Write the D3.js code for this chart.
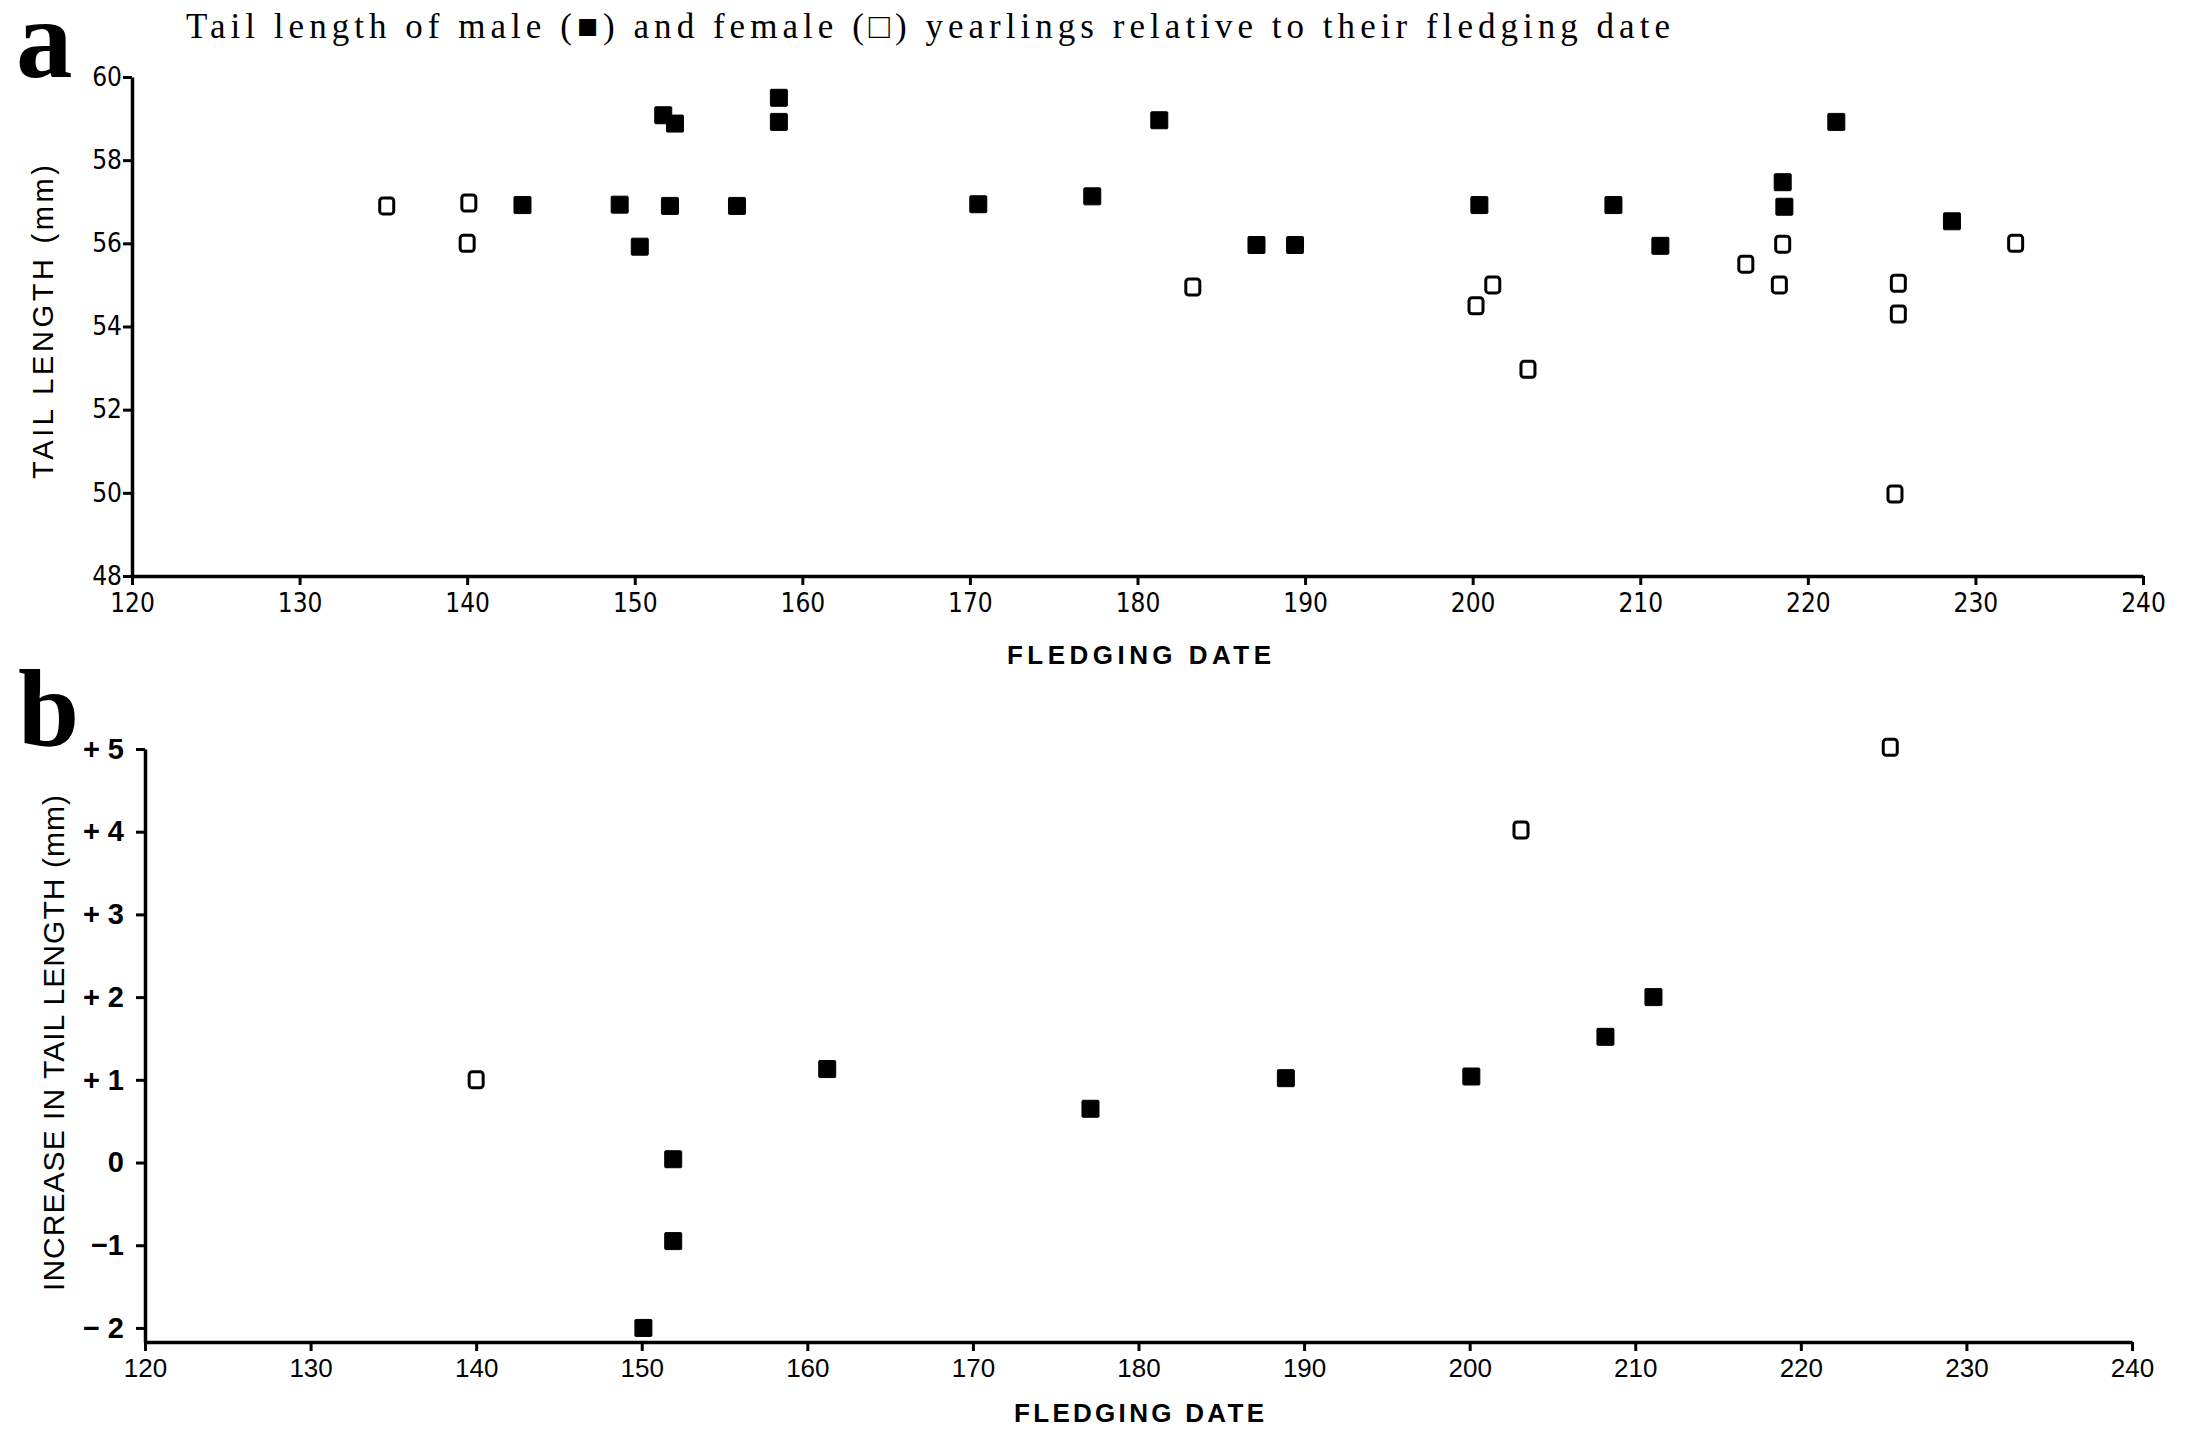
<!DOCTYPE html>
<html>
<head>
<meta charset="utf-8">
<script src="https://cdn.jsdelivr.net/npm/d3@7"></script>
<style>
  body { margin: 0; background: #fff; }
  svg { display: block; background: #fff; }
  .axis .domain { stroke: #000; stroke-width: 3.5px; }
  .axis .tick line { stroke: #000; stroke-width: 3px; }
  .axis text { fill: #000; }
  .narrow text { font-family: "Liberation Sans Narrow", "Arial Narrow", "DejaVu Sans Condensed", sans-serif; font-size: 26px; }
  .wide text { font-family: "Liberation Sans", Arial, sans-serif; font-size: 26px; }
  .axisTitle { font-family: "Liberation Sans", Arial, sans-serif; fill: #000; }
</style>
</head>
<body>
<div id="chart"></div>
<script>

/*
 * DATA
 */

var xTicks = [120, 130, 140, 150, 160, 170, 180, 190, 200, 210, 220, 230, 240];

// panel a: tail length (mm) against fledging date
var tailTicks = [48, 50, 52, 54, 56, 58, 60];

var maleDate = [143.3, 149.1, 150.3, 152.1, 151.7, 152.4, 156.1, 158.6, 158.6, 170.5, 177.3,
                181.3, 187.1, 189.4, 200.4, 208.4, 211.2, 218.5, 218.6, 221.7, 228.6];
var maleTail = [56.92, 56.93, 55.92, 56.9, 59.08, 58.88, 56.9, 59.5, 58.92, 56.94, 57.13,
                58.96, 55.96, 55.96, 56.92, 56.92, 55.94, 57.47, 56.88, 58.92, 56.53];

var femaleDate = [135.2, 140.1, 140.0, 183.3, 200.2, 201.2, 203.3, 216.3, 218.3, 218.5, 225.4, 225.4, 225.2, 232.4];
var femaleTail = [56.9, 56.97, 56.0, 54.95, 54.5, 55.0, 52.97, 55.5, 55.0, 55.98, 55.04, 54.3, 49.97, 56.0];

// panel b: increase in tail length (mm) against fledging date
var incTicks = [-2, -1, 0, 1, 2, 3, 4, 5];
var incLabels = ["\u2212 2", "\u22121", "0", "+ 1", "+ 2", "+ 3", "+ 4", "+ 5"];

var maleIncDate = [150.1, 151.9, 151.9, 161.2, 177.1, 188.9, 200.1, 208.2, 211.1];
var maleInc = [-2.0, 0.04, -0.95, 1.13, 0.65, 1.02, 1.04, 1.52, 2.0];

var femaleIncDate = [140.0, 203.1, 225.4];
var femaleInc = [1.0, 4.02, 5.02];

/*
 * SET UP
 */

var W = 2188, H = 1430;

var svg = d3.select('#chart').append('svg')
    .attr('width', W)
    .attr('height', H);

function zip(xs, ys) {
    return xs.map(function (x, i) { return { x: x, y: ys[i] }; });
}

function drawMarks(g, data, x, y, filled) {
    var w = filled ? 17 : 14,
        h = filled ? 17 : 16;
    g.selectAll(null).data(data).enter().append('rect')
        .attr('x', function (d) { return x(d.x) - w / 2; })
        .attr('y', function (d) { return y(d.y) - h / 2; })
        .attr('width', w)
        .attr('height', h)
        .attr('rx', filled ? 1 : 3)
        .attr('fill', filled ? '#000' : '#fff')
        .attr('stroke', '#000')
        .attr('stroke-width', filled ? 1 : 3);
}

function axisTitle(txt, cx, cy, len, size, bold, rotate) {
    svg.append('text')
        .attr('class', 'axisTitle')
        .attr('transform', 'translate(' + cx + ',' + cy + ')' + (rotate ? ' rotate(-90)' : ''))
        .attr('text-anchor', 'middle')
        .attr('font-size', size)
        .attr('font-weight', bold ? 'bold' : 'normal')
        .attr('textLength', len)
        .attr('lengthAdjust', 'spacing')
        .text(txt);
}

/*
 * TITLE + PANEL LETTERS
 */

svg.append('text')
    .attr('x', 186).attr('y', 38)
    .attr('font-family', '"Liberation Serif", "DejaVu Serif", serif')
    .attr('font-size', 35)
    .attr('textLength', 1484)
    .attr('lengthAdjust', 'spacing')
    .text('Tail length of male (\u25A0) and female (\u25A1) yearlings relative to their fledging date');

// big panel letters, baseline kept low enough that the glyph box stays on the page
svg.append('text')
    .attr('x', 16).attr('y', 77)
    .attr('font-family', '"Liberation Serif", serif')
    .attr('font-weight', 'bold')
    .attr('font-size', 113)
    .text('a');

svg.append('text')
    .attr('x', 18).attr('y', 746)
    .attr('font-family', '"Liberation Serif", serif')
    .attr('font-weight', 'bold')
    .attr('font-size', 110)
    .text('b');

/*
 * PANEL A
 */

var xA = d3.scaleLinear().domain([120, 240]).range([132, 2143]);
var yA = d3.scaleLinear().domain([48, 60]).range([576, 77]);

svg.append('g')
    .attr('class', 'axis narrow')
    .attr('transform', 'translate(0,' + yA(48) + ')')
    .call(d3.axisBottom(xA).tickValues(xTicks).tickSize(9).tickSizeOuter(0).tickPadding(9));

svg.append('g')
    .attr('class', 'axis narrow')
    .attr('transform', 'translate(' + xA(120) + ',0)')
    .call(d3.axisLeft(yA).tickValues(tailTicks).tickSize(9).tickSizeOuter(0).tickPadding(1));

var gA = svg.append('g');
drawMarks(gA, zip(femaleDate, femaleTail), xA, yA, false);
drawMarks(gA, zip(maleDate, maleTail), xA, yA, true);

axisTitle('FLEDGING DATE', 1139, 664, 264, 26, true, false);
axisTitle('TAIL LENGTH (mm)', 53, 322, 314, 29, false, true);

/*
 * PANEL B
 */

var xB = d3.scaleLinear().domain([120, 240]).range([145, 2132]);
var yB = d3.scaleLinear().domain([-2.17, 5]).range([1342, 749]);

svg.append('g')
    .attr('class', 'axis wide')
    .attr('transform', 'translate(0,' + yB(-2.17) + ')')
    .call(d3.axisBottom(xB).tickValues(xTicks).tickSize(9).tickSizeOuter(0).tickPadding(8));

svg.append('g')
    .attr('class', 'axis wide')
    .attr('transform', 'translate(' + xB(120) + ',0)')
    .call(d3.axisLeft(yB).tickValues(incTicks).tickSize(9).tickSizeOuter(0).tickPadding(12)
        .tickFormat(function (d, i) { return incLabels[i]; }))
    .selectAll('text')
    .attr('font-weight', 'bold')
    .style('font-size', '29px');

var gB = svg.append('g');
drawMarks(gB, zip(femaleIncDate, femaleInc), xB, yB, false);
drawMarks(gB, zip(maleIncDate, maleInc), xB, yB, true);

axisTitle('FLEDGING DATE', 1139, 1422, 250, 26, true, false);
axisTitle('INCREASE IN TAIL LENGTH (mm)', 64, 1043, 496, 30, false, true);

</script>
</body>
</html>
